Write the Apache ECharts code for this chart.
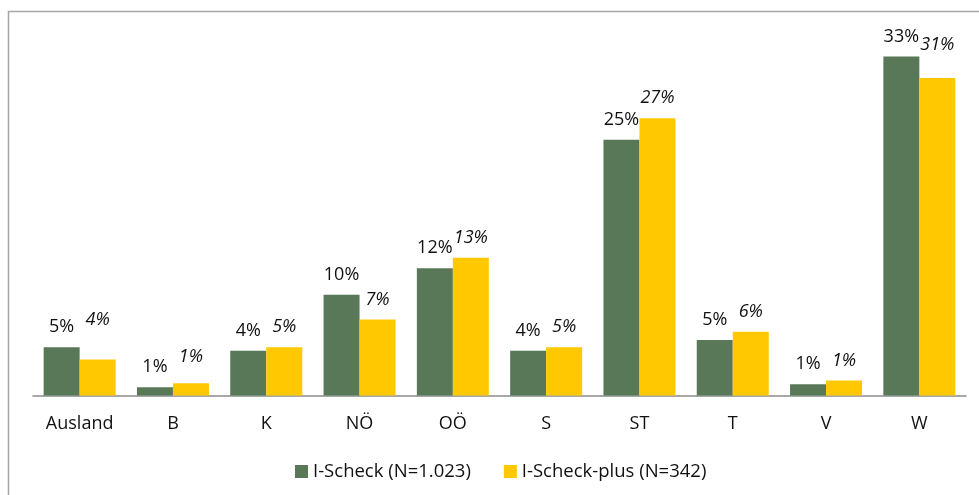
<!DOCTYPE html>
<html>
<head>
<meta charset="utf-8">
<script src="https://cdn.jsdelivr.net/npm/echarts@6/dist/echarts.min.js"></script>
<style>
  html, body { margin: 0; padding: 0; background: #fff; }
  #chart { width: 979px; height: 495px; }
</style>
</head>
<body>
<div id="chart"></div>
<script>
// Bundesländer (Anteile in %)
const regions = ['Ausland', 'B', 'K', 'NÖ', 'OÖ', 'S', 'ST', 'T', 'V', 'W'];
const scheck = [4.7, 0.8, 4.35, 9.8, 12.4, 4.35, 24.9, 5.4, 1.1, 33.0];
const scheckPlus = [3.5, 1.2, 4.7, 7.4, 13.4, 4.7, 27.0, 6.2, 1.45, 30.9];
const seriesNames = ['I-Scheck (N=1.023)', 'I-Scheck-plus (N=342)'];

// labels that were moved by hand in the original
const plusLabelLift = { 'Ausland': 20, 'B': 6, 'W': 13 };

const font = '"Open Sans", sans-serif';
const pct = p => Math.round(p.value) + '%';

var chart = echarts.init(document.getElementById('chart'));

chart.setOption({
  animation: false,
  graphic: [{
    type: 'rect',
    shape: { x: 8.5, y: 11.5, width: 1200, height: 800 },
    style: { fill: 'none', stroke: '#a6a6a6', lineWidth: 1.5 },
    silent: true
  }],
  grid: { left: 33, right: 13, top: 36, bottom: 99.5 },
  legend: {
    left: 290,
    top: 457,
    itemWidth: 13,
    itemHeight: 13,
    itemGap: 33,
    icon: 'rect',
    textStyle: { fontFamily: font, fontSize: 18.5, color: '#111' },
    data: seriesNames
  },
  xAxis: {
    type: 'category',
    data: regions,
    axisLine: { lineStyle: { color: '#8c8c8c', width: 1.5 } },
    axisTick: { length: 6, lineStyle: { color: '#8c8c8c', width: 1.5 } },
    axisLabel: { margin: 19, fontFamily: font, fontSize: 18, color: '#111' }
  },
  yAxis: {
    type: 'value',
    min: 0,
    max: 35,
    show: false,
    splitLine: { show: false }
  },
  series: [
    {
      name: seriesNames[0],
      type: 'bar',
      barWidth: 36,
      barGap: '0%',
      itemStyle: { color: '#587858' },
      label: {
        show: true, position: 'top', distance: 11,
        formatter: pct,
        fontFamily: font, fontSize: 18, color: '#111'
      },
      data: scheck
    },
    {
      name: seriesNames[1],
      type: 'bar',
      barWidth: 36,
      itemStyle: { color: '#ffc800' },
      label: {
        show: true, position: 'top', distance: 11,
        formatter: pct,
        fontFamily: font, fontSize: 18, fontStyle: 'italic', color: '#111'
      },
      data: scheckPlus.map((v, i) => {
        const lift = plusLabelLift[regions[i]];
        return lift ? { value: v, label: { distance: 11 + lift } } : v;
      })
    }
  ]
});
</script>
</body>
</html>
